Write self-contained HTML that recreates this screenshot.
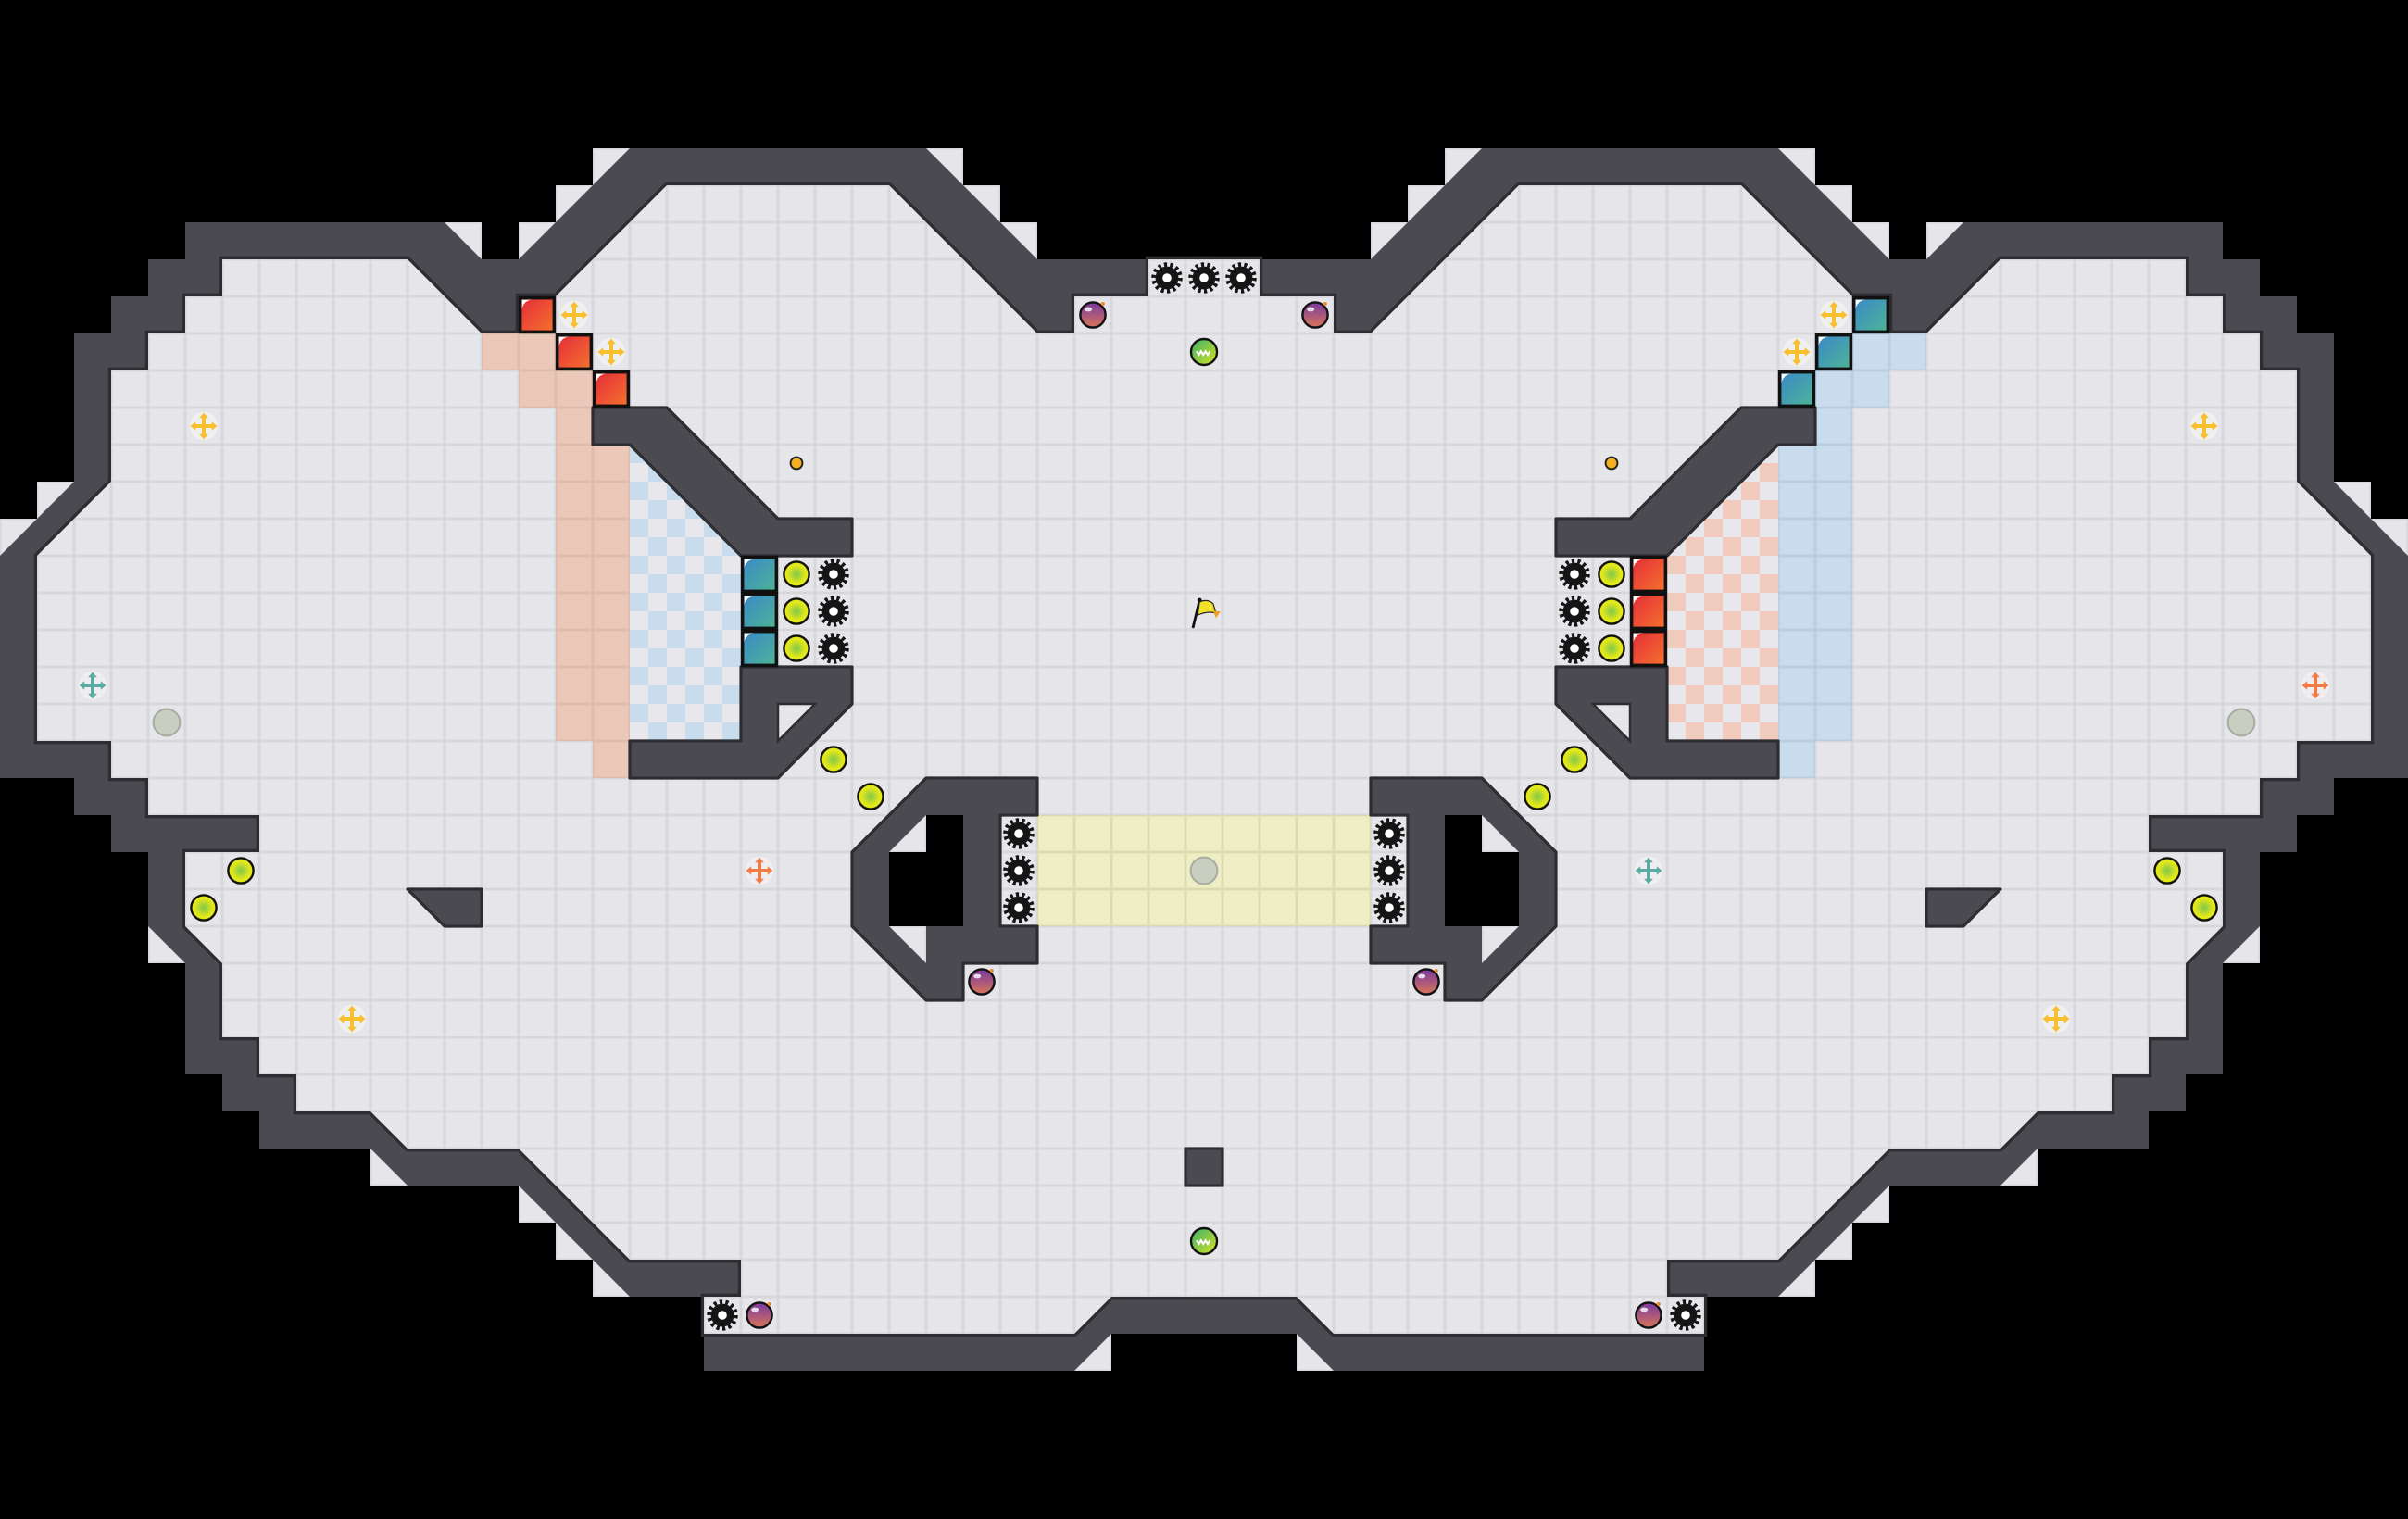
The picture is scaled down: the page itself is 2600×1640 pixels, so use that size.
<!DOCTYPE html>
<html><head><meta charset="utf-8"><style>
html,body{margin:0;padding:0;background:#000;}
svg{display:block;}
</style></head><body>
<svg width="2600" height="1640" viewBox="0 0 65 41" xmlns="http://www.w3.org/2000/svg">
<defs>
<pattern id="fl" patternUnits="userSpaceOnUse" width="1" height="1"><rect width="1" height="1" fill="#d6d6db"/><rect x="0.035" y="0.035" width="0.93" height="0.93" fill="#e6e6ea"/></pattern>
<pattern id="sal" patternUnits="userSpaceOnUse" width="1" height="1"><rect width="1" height="1" fill="#dcbcae"/><rect x="0.035" y="0.035" width="0.93" height="0.93" fill="#ecc8b8"/></pattern>
<pattern id="blu" patternUnits="userSpaceOnUse" width="1" height="1"><rect width="1" height="1" fill="#b8cde0"/><rect x="0.035" y="0.035" width="0.93" height="0.93" fill="#c8dcee"/></pattern>
<pattern id="yel" patternUnits="userSpaceOnUse" width="1" height="1"><rect width="1" height="1" fill="#dcdbb0"/><rect x="0.035" y="0.035" width="0.93" height="0.93" fill="#eeedc4"/></pattern>
<pattern id="chb" patternUnits="userSpaceOnUse" width="1" height="1"><rect width="1" height="1" fill="#e8e8ec"/><rect width="0.5" height="0.5" fill="#c8dcee"/><rect x="0.5" y="0.5" width="0.5" height="0.5" fill="#c8dcee"/></pattern>
<pattern id="chr" patternUnits="userSpaceOnUse" width="1" height="1"><rect width="1" height="1" fill="#e8e8ec"/><rect width="0.5" height="0.5" fill="#f0cbbd"/><rect x="0.5" y="0.5" width="0.5" height="0.5" fill="#f0cbbd"/></pattern>
<linearGradient id="gr" x1="0" y1="0" x2="1" y2="1"><stop offset="0" stop-color="#e42a3a"/><stop offset="1" stop-color="#f4742e"/></linearGradient>
<linearGradient id="gt" x1="0" y1="0" x2="1" y2="1"><stop offset="0" stop-color="#3a88c8"/><stop offset="1" stop-color="#4eb496"/></linearGradient>
<radialGradient id="gb"><stop offset="0" stop-color="#7cc84a"/><stop offset="0.7" stop-color="#dfe61c"/><stop offset="1" stop-color="#e8ec14"/></radialGradient>
<linearGradient id="gbomb" x1="0" y1="0" x2="0" y2="1"><stop offset="0" stop-color="#7a3aa0"/><stop offset="1" stop-color="#d8745a"/></linearGradient>
<linearGradient id="ggr" x1="0" y1="0" x2="1" y2="1"><stop offset="0" stop-color="#3aae6a"/><stop offset="1" stop-color="#d8e422"/></linearGradient>
<polygon id="outerL" points="32.6,7 28,7 25,4 17,4 14,7 13,7 12,6 5,6 5,7 4,7 4,8 3,8 3,9 2,9 2,13 0,15 0,21 2,21 2,22 3,22 3,23 4,23 4,25 5,26 5,29 6,29 6,30 7,30 7,31 10,31 11,32 14,32 17,35 19,35 19,37 29,37 30,36 32.6,36"/>
<polygon id="innerL" points="32.6,7 31,7 31,8 29,8 29,9 28,9 24,5 18,5 15,8 14,8 14,9 13,9 11,7 6,7 6,8 5,8 5,9 4,9 4,10 3,10 3,13 1,15 1,20 3,20 3,21 4,21 4,22 7,22 7,23 5,23 5,25 6,26 6,28 7,28 7,29 8,29 8,30 10,30 11,31 14,31 17,34 20,34 20,35 19,35 19,36 29,36 30,35 32.6,35"/>
<g id="under">
<rect x="1" y="13" width="1" height="1"/><rect x="0" y="14" width="1" height="1"/><rect x="12" y="6" width="1" height="1"/><rect x="14" y="6" width="1" height="1"/><rect x="15" y="5" width="1" height="1"/><rect x="16" y="4" width="1" height="1"/><rect x="25" y="4" width="1" height="1"/><rect x="26" y="5" width="1" height="1"/><rect x="27" y="6" width="1" height="1"/><rect x="4" y="25" width="1" height="1"/><rect x="10" y="31" width="1" height="1"/><rect x="14" y="32" width="1" height="1"/><rect x="15" y="33" width="1" height="1"/><rect x="16" y="34" width="1" height="1"/><rect x="29" y="36" width="1" height="1"/>
</g>
<g id="inwalls">
<polygon points="16,11 18,11 21,14 23,14 23,15 20,15 17,12 16,12" fill="#4a4a50" stroke="#2c2c31" stroke-width="0.08" stroke-linejoin="round"/>
<polygon points="20,18 23,18 23,19 21,21 17,21 17,20 20,20" fill="#4a4a50" stroke="#2c2c31" stroke-width="0.08" stroke-linejoin="round"/>
<polygon points="21,19 22,19 21,20" fill="url(#fl)" stroke="#2c2c31" stroke-width="0.06"/>
<polygon points="25,21 28,21 28,22 27,22 27,25 28,25 28,26 26,26 26,27 25,27 23,25 23,23" fill="#4a4a50" stroke="#2c2c31" stroke-width="0.08" stroke-linejoin="round"/>
<polygon points="25,22 26,22 26,25 24,25 24,23 25,23" fill="#000"/>
<polygon points="24,23 25,22 25,23" fill="url(#fl)"/>
<polygon points="24,25 25,25 25,26" fill="url(#fl)"/>
<polygon points="11,24 13,24 13,25 12,25" fill="#4a4a50" stroke="#2c2c31" stroke-width="0.08" stroke-linejoin="round"/>
</g>
<g id="gear"><circle r="0.36" fill="none" stroke="#151515" stroke-width="0.12" stroke-dasharray="0.08 0.0816"/><circle r="0.31" fill="#151515"/><circle r="0.12" fill="#fff"/></g>
<g id="ball"><circle r="0.34" fill="url(#gb)" stroke="#111" stroke-width="0.06"/></g>
<g id="bomb"><circle r="0.34" fill="url(#gbomb)" stroke="#111" stroke-width="0.06"/><ellipse cx="-0.12" cy="-0.15" rx="0.1" ry="0.06" fill="#fff" opacity="0.8"/><circle cx="0.27" cy="-0.3" r="0.05" fill="#f08a20"/></g>
<g id="green"><circle r="0.35" fill="url(#ggr)" stroke="#111" stroke-width="0.06"/><path d="M-0.2,-0.02 l0.06,0.1 l0.06,-0.1 l0.06,0.1 l0.06,-0.1 l0.06,0.1 l0.06,-0.1" fill="none" stroke="#fff" stroke-width="0.05"/></g>
<g id="cross"><circle r="0.38" fill="#fff" opacity="0.35"/><rect x="-0.26" y="-0.05" width="0.52" height="0.1"/><rect x="-0.05" y="-0.26" width="0.1" height="0.52"/><polygon points="-0.36,0 -0.22,-0.12 -0.22,0.12"/><polygon points="0.36,0 0.22,-0.12 0.22,0.12"/><polygon points="0,-0.36 -0.12,-0.22 0.12,-0.22"/><polygon points="0,0.36 -0.12,0.22 0.12,0.22"/></g>
<g id="gray"><circle r="0.36" fill="#c9cfc0" stroke="#a6ad9f" stroke-width="0.05"/></g>
<g id="dot"><circle r="0.16" fill="#f5b020" stroke="#222" stroke-width="0.05"/></g>
<g id="rt"><rect x="0.04" y="0.04" width="0.92" height="0.92" fill="url(#gr)" stroke="#111" stroke-width="0.09"/><path d="M0.09,0.09 h0.28 a0.28,0.28 0 0 0 -0.28,0.28z" fill="#fff"/></g>
<g id="tt"><rect x="0.04" y="0.04" width="0.92" height="0.92" fill="url(#gt)" stroke="#111" stroke-width="0.09"/><path d="M0.09,0.09 h0.28 a0.28,0.28 0 0 0 -0.28,0.28z" fill="#fff"/></g>
</defs>
<rect width="65" height="41" fill="#000"/>
<!-- floor under diagonals -->
<use href="#under" fill="url(#fl)"/>
<use href="#under" fill="url(#fl)" transform="translate(65,0) scale(-1,1)"/>
<!-- outer walls -->
<use href="#outerL" fill="#4a4a50"/>
<use href="#outerL" fill="#4a4a50" transform="translate(65,0) scale(-1,1)"/>
<use href="#innerL" fill="#2c2c31" stroke="#2c2c31" stroke-width="0.16" stroke-linejoin="miter"/>
<use href="#innerL" fill="#2c2c31" stroke="#2c2c31" stroke-width="0.16" transform="translate(65,0) scale(-1,1)"/>
<use href="#innerL" fill="url(#fl)"/>
<use href="#innerL" fill="url(#fl)" transform="translate(65,0) scale(-1,1)"/>
<!-- colored zones left -->
<g fill="url(#sal)"><rect x="13" y="9" width="2" height="1"/><rect x="14" y="10" width="2" height="1"/><rect x="15" y="11" width="1" height="9"/><rect x="16" y="12" width="1" height="9"/></g>
<polygon points="17,12 20,15 20,20 17,20" fill="url(#chb)"/>
<!-- colored zones right -->
<g fill="url(#blu)"><rect x="50" y="9" width="2" height="1"/><rect x="49" y="10" width="2" height="1"/><rect x="49" y="11" width="1" height="9"/><rect x="48" y="12" width="1" height="9"/></g>
<polygon points="48,12 45,15 45,20 48,20" fill="url(#chr)"/>
<rect x="28" y="22" width="9" height="3" fill="url(#yel)"/>
<!-- interior walls -->
<use href="#inwalls"/>
<use href="#inwalls" transform="translate(65,0) scale(-1,1)"/>
<rect x="32" y="31" width="1" height="1" fill="#4a4a50" stroke="#2c2c31" stroke-width="0.08"/>
<!-- tiles -->
<use href="#rt" x="14" y="8"/><use href="#rt" x="15" y="9"/><use href="#rt" x="16" y="10"/>
<use href="#rt" x="44" y="15"/><use href="#rt" x="44" y="16"/><use href="#rt" x="44" y="17"/>
<use href="#tt" x="20" y="15"/><use href="#tt" x="20" y="16"/><use href="#tt" x="20" y="17"/>
<use href="#tt" x="50" y="8"/><use href="#tt" x="49" y="9"/><use href="#tt" x="48" y="10"/>
<!-- gears -->
<use href="#gear" x="22.5" y="15.5"/><use href="#gear" x="22.5" y="16.5"/><use href="#gear" x="22.5" y="17.5"/>
<use href="#gear" x="27.5" y="22.5"/><use href="#gear" x="27.5" y="23.5"/><use href="#gear" x="27.5" y="24.5"/>
<use href="#gear" x="19.5" y="35.5"/>
<use href="#gear" x="31.5" y="7.5"/><use href="#gear" x="32.5" y="7.5"/><use href="#gear" x="33.5" y="7.5"/>
<use href="#gear" x="42.5" y="15.5"/><use href="#gear" x="42.5" y="16.5"/><use href="#gear" x="42.5" y="17.5"/>
<use href="#gear" x="37.5" y="22.5"/><use href="#gear" x="37.5" y="23.5"/><use href="#gear" x="37.5" y="24.5"/>
<use href="#gear" x="45.5" y="35.5"/>
<!-- balls -->
<use href="#ball" x="21.5" y="15.5"/><use href="#ball" x="21.5" y="16.5"/><use href="#ball" x="21.5" y="17.5"/>
<use href="#ball" x="22.5" y="20.5"/><use href="#ball" x="23.5" y="21.5"/><use href="#ball" x="6.5" y="23.5"/><use href="#ball" x="5.5" y="24.5"/>
<use href="#ball" x="43.5" y="15.5"/><use href="#ball" x="43.5" y="16.5"/><use href="#ball" x="43.5" y="17.5"/>
<use href="#ball" x="42.5" y="20.5"/><use href="#ball" x="41.5" y="21.5"/><use href="#ball" x="58.5" y="23.5"/><use href="#ball" x="59.5" y="24.5"/>
<!-- bombs -->
<use href="#bomb" x="29.5" y="8.5"/><use href="#bomb" x="26.5" y="26.5"/><use href="#bomb" x="20.5" y="35.5"/>
<use href="#bomb" x="35.5" y="8.5"/><use href="#bomb" x="38.5" y="26.5"/><use href="#bomb" x="44.5" y="35.5"/>
<use href="#green" x="32.5" y="9.5"/><use href="#green" x="32.5" y="33.5"/>
<!-- crosses -->
<g fill="#f7c02c">
<use href="#cross" x="15.5" y="8.5"/><use href="#cross" x="16.5" y="9.5"/><use href="#cross" x="5.5" y="11.5"/><use href="#cross" x="9.5" y="27.5"/>
<use href="#cross" x="49.5" y="8.5"/><use href="#cross" x="48.5" y="9.5"/><use href="#cross" x="59.5" y="11.5"/><use href="#cross" x="55.5" y="27.5"/>
</g>
<g fill="#5aaaa2"><use href="#cross" x="2.5" y="18.5"/><use href="#cross" x="44.5" y="23.5"/></g>
<g fill="#f07a48"><use href="#cross" x="20.5" y="23.5"/><use href="#cross" x="62.5" y="18.5"/></g>
<use href="#gray" x="4.5" y="19.5"/><use href="#gray" x="60.5" y="19.5"/><use href="#gray" x="32.5" y="23.5"/>
<use href="#dot" x="21.5" y="12.5"/><use href="#dot" x="43.5" y="12.5"/>
<!-- flag -->
<line x1="32.2" y1="16.95" x2="32.38" y2="16.2" stroke="#111" stroke-width="0.07"/>
<circle cx="32.38" cy="16.2" r="0.06" fill="#111"/>
<path d="M32.38,16.25 Q32.6,16.15 32.75,16.3 L32.82,16.55 Q32.62,16.48 32.33,16.6 Z" fill="#f2e02a" stroke="#222" stroke-width="0.03"/>
<path d="M32.75,16.5 L32.95,16.5 L32.82,16.68 Z" fill="#f0a020"/>
</svg>
</body></html>
